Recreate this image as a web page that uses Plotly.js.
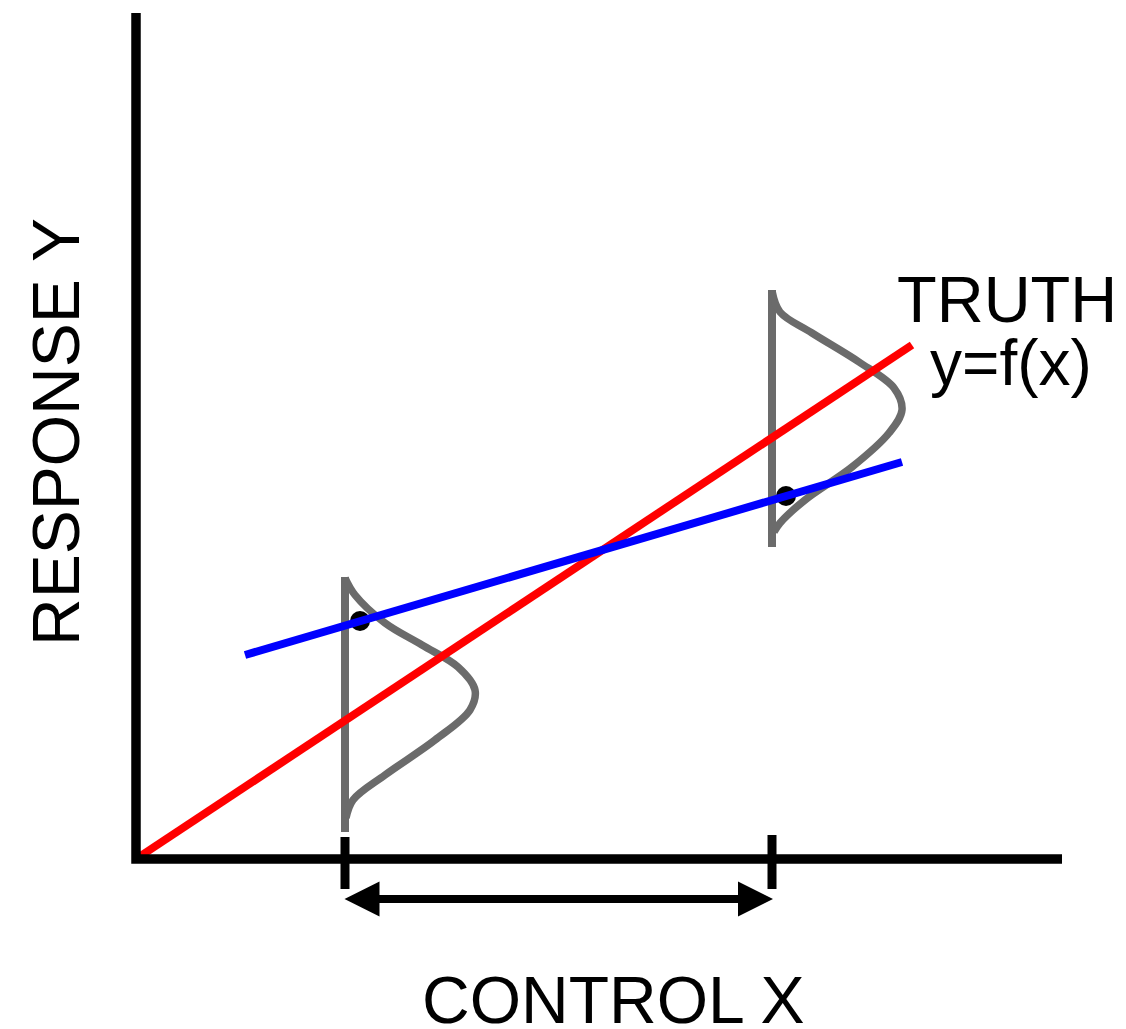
<!DOCTYPE html>
<html>
<head>
<meta charset="utf-8">
<script src="https://cdn.plot.ly/plotly-3.0.1.min.js"></script>
<style>html,body{margin:0;padding:0;background:#fff;}#chart{width:1126px;height:1029px;}</style>
</head>
<body>
<div id="chart"></div>
<script>
// Units: arbitrary (no numeric ticks in the reference); origin at the axes corner.
var axisX = [0, 0, 926];
var axisY = [846, 0, 0];

var truthX = [0, 776];
var truthY = [0, 514];

var fitX = [109, 766];
var fitY = [204, 397];

var dist1LineX = [209, 209];
var dist1LineY = [282, 27];
var dist1CurveX = [209, 219, 249, 286, 322, 339, 334, 299, 249, 217, 210];
var dist1CurveY = [281, 264, 236, 214, 192, 169, 149, 119, 84, 59, 41];

var dist2LineX = [636, 636];
var dist2LineY = [569, 312];
var dist2CurveX = [636, 644, 676, 723, 758, 766, 753, 716, 669, 644, 638];
var dist2CurveY = [568, 547, 526, 497, 471, 449, 426, 392, 359, 336, 327];

var meanX = [224, 650];
var meanY = [238, 363];

var tickXs = [209, 636];
var tickTop = [22, 24];
var tickBottom = -30;

var rangeArrowY = -40;
var rangeArrowX0 = 207;
var rangeArrowX1 = 637;

var labelX = "CONTROL X";
var labelY = "RESPONSE Y";
var truthLabel1 = "TRUTH";
var truthLabel2 = "y=f(x)";

var gray = "#6b6b6b";
var font = "Liberation Sans, Arial, Helvetica, sans-serif";

var traces = [];
traces.push({x: dist1LineX, y: dist1LineY, mode: "lines", line: {color: gray, width: 8}, hoverinfo: "skip"});
traces.push({x: dist1CurveX, y: dist1CurveY, mode: "lines", line: {color: gray, width: 7.5, shape: "spline", smoothing: 1}, hoverinfo: "skip"});
traces.push({x: dist2LineX, y: dist2LineY, mode: "lines", line: {color: gray, width: 8}, hoverinfo: "skip"});
traces.push({x: dist2CurveX, y: dist2CurveY, mode: "lines", line: {color: gray, width: 7.5, shape: "spline", smoothing: 1}, hoverinfo: "skip"});
traces.push({x: truthX, y: truthY, mode: "lines", line: {color: "#ff0000", width: 8}, hoverinfo: "skip"});
traces.push({x: axisX, y: axisY, mode: "lines", line: {color: "#000", width: 9.5}, hoverinfo: "skip"});
for (var i = 0; i < tickXs.length; i++) {
  traces.push({x: [tickXs[i], tickXs[i]], y: [tickTop[i], tickBottom], mode: "lines", line: {color: "#000", width: 9}, hoverinfo: "skip"});
}
traces.push({x: [rangeArrowX0 + 20, rangeArrowX1 - 20], y: [rangeArrowY, rangeArrowY], mode: "lines", line: {color: "#000", width: 8}, hoverinfo: "skip"});
traces.push({x: meanX, y: meanY, mode: "markers", marker: {color: "#000", size: 20, symbol: "circle"}, hoverinfo: "skip"});
traces.push({x: fitX, y: fitY, mode: "lines", line: {color: "#0000ff", width: 8}, hoverinfo: "skip"});

var layout = {
  width: 1126, height: 1029,
  margin: {l: 0, r: 0, t: 0, b: 0},
  paper_bgcolor: "#fff", plot_bgcolor: "#fff",
  showlegend: false,
  xaxis: {range: [-136, 990], visible: false, fixedrange: true},
  yaxis: {range: [-170, 859], visible: false, fixedrange: true},
  annotations: [
    {x: rangeArrowX1, y: rangeArrowY, ax: rangeArrowX0, ay: rangeArrowY, axref: "x", ayref: "y", xref: "x", yref: "y",
     text: "", showarrow: true, arrowside: "end+start", arrowhead: 2, startarrowhead: 2,
     arrowsize: 0.875, startarrowsize: 0.875, arrowwidth: 8, arrowcolor: "#000", standoff: 0, startstandoff: 0},
    {x: 477, y: -141, xref: "x", yref: "y", text: labelX, showarrow: false, xanchor: "center", yanchor: "middle", borderpad: 0,
     font: {family: font, size: 66, color: "#000"}},
    {x: -80, y: 427, xref: "x", yref: "y", text: labelY, showarrow: false, textangle: -90, xanchor: "center", yanchor: "middle", borderpad: 0,
     font: {family: font, size: 66, color: "#000"}},
    {x: 871, y: 560, xref: "x", yref: "y", text: truthLabel1, showarrow: false, xanchor: "center", yanchor: "middle", borderpad: 0,
     font: {family: font, size: 65, color: "#000"}},
    {x: 875, y: 496, xref: "x", yref: "y", text: truthLabel2, showarrow: false, xanchor: "center", yanchor: "middle", borderpad: 0,
     font: {family: font, size: 64, color: "#000"}}
  ]
};

Plotly.newPlot("chart", traces, layout, {staticPlot: true, displayModeBar: false});
</script>
</body>
</html>
